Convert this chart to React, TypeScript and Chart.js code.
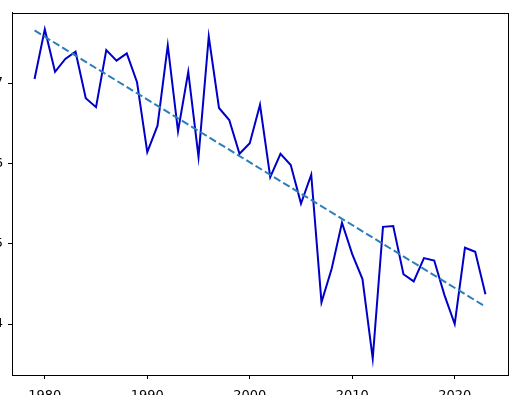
import React, { useEffect, useRef } from "react";
import { Chart, registerables } from "chart.js";

Chart.register(...registerables);

const years = [
  1979, 1980, 1981, 1982, 1983, 1984, 1985, 1986, 1987, 1988, 1989,
  1990, 1991, 1992, 1993, 1994, 1995, 1996, 1997, 1998, 1999,
  2000, 2001, 2002, 2003, 2004, 2005, 2006, 2007, 2008, 2009,
  2010, 2011, 2012, 2013, 2014, 2015, 2016, 2017, 2018, 2019,
  2020, 2021, 2022, 2023,
];

const extent = [
  7.05, 7.67, 7.14, 7.30, 7.39, 6.81, 6.70, 7.41, 7.28, 7.37, 7.01,
  6.14, 6.47, 7.47, 6.40, 7.14, 6.08, 7.58, 6.69, 6.54, 6.12,
  6.25, 6.73, 5.83, 6.12, 5.98, 5.50, 5.86, 4.27, 4.69, 5.26,
  4.87, 4.56, 3.57, 5.21, 5.22, 4.62, 4.53, 4.82, 4.79, 4.36,
  4.00, 4.95, 4.90, 4.37,
];

const trendYears = [1979, 2023];
const trendValues = [7.655, 4.216];

const xTicks = [1980, 1990, 2000, 2010, 2020];
const yTicks = [4, 5, 6, 7];

const frame = {
  id: "frame",
  afterDraw(chart: any) {
    const { ctx, chartArea } = chart;
    ctx.save();
    ctx.strokeStyle = "#000";
    ctx.lineWidth = 1;
    ctx.strokeRect(
      Math.round(chartArea.left) + 0.5,
      Math.round(chartArea.top) + 0.5,
      Math.round(chartArea.right - chartArea.left),
      Math.round(chartArea.bottom - chartArea.top)
    );
    ctx.restore();
  },
};

export default function App() {
  const ref = useRef<HTMLCanvasElement | null>(null);
  useEffect(() => {
    if (!ref.current) return;
    const font = { family: "'DejaVu Sans', sans-serif", size: 13 };
    const chart = new Chart(ref.current, {
      type: "line",
      data: {
        datasets: [
          {
            data: years.map((y, i) => ({ x: y, y: extent[i] })),
            borderColor: "#0000c8",
            borderWidth: 2,
            pointRadius: 0,
            tension: 0,
            fill: false,
            order: 1,
          },
          {
            data: trendYears.map((y, i) => ({ x: y, y: trendValues[i] })),
            borderColor: "#2a7fb8",
            borderWidth: 2,
            borderDash: [7.5, 3.3],
            pointRadius: 0,
            tension: 0,
            fill: false,
            order: 0,
          },
        ],
      },
      options: {
        animation: false,
        responsive: false,
        devicePixelRatio: 1,
        layout: { padding: { top: 6, right: 9, left: 0, bottom: 0 } },
        plugins: {
          legend: { display: false },
          tooltip: { enabled: false },
          title: { display: false },
        },
        scales: {
          x: {
            type: "linear",
            min: 1976.8,
            max: 2025.2,
            afterBuildTicks: (axis: any) => {
              axis.ticks = xTicks.map((v) => ({ value: v }));
            },
            afterFit: (axis: any) => {
              axis.height = 20;
            },
            grid: {
              drawOnChartArea: false,
              drawTicks: true,
              tickLength: 4,
              color: "#000",
              lineWidth: 1,
            },
            border: { display: true, color: "#000", width: 1 },
            ticks: {
              color: "#000",
              font,
              padding: 9,
              maxRotation: 0,
              autoSkip: false,
              callback: (v: any) => String(v),
            },
          },
          y: {
            type: "linear",
            min: 3.365,
            max: 7.875,
            afterBuildTicks: (axis: any) => {
              axis.ticks = yTicks.map((v) => ({ value: v }));
            },
            afterFit: (axis: any) => {
              axis.width = 12;
            },
            grid: {
              drawOnChartArea: false,
              drawTicks: true,
              tickLength: 4,
              color: "#000",
              lineWidth: 1,
            },
            border: { display: true, color: "#000", width: 1 },
            ticks: {
              color: "#000",
              font,
              padding: 5,
              autoSkip: false,
              callback: (v: any) => String(v),
            },
          },
        },
      },
      plugins: [frame],
    });
    return () => chart.destroy();
  }, []);
  return (
    <div style={{ position: "absolute", left: 0, top: 0, width: 517, height: 395, background: "#fff" }}>
      <canvas ref={ref} width={517} height={395} style={{ display: "block" }} />
    </div>
  );
}
